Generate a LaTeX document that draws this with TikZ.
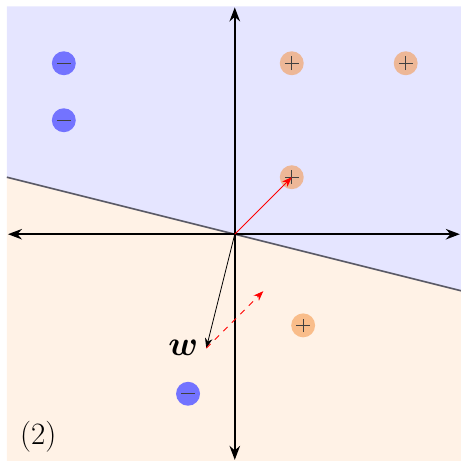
\documentclass[tikz,border=0pt]{standalone}
\usepackage{amsmath,amssymb,bm}
\usetikzlibrary{arrows.meta, positioning, calc}
\definecolor{regionA}{HTML}{E5E5FF}
\definecolor{regionB}{HTML}{FFF2E6}
\definecolor{lineG}{HTML}{5A5A66}
\definecolor{posC}{HTML}{F58A30}

\begin{document}
\begin{tikzpicture}[
  negclass/.style={
    circle, fill=blue!55, minimum size=0.42cm, inner sep=0pt,
    path picture={\draw[black!75, line width=0.5pt]
      ([xshift=-0.12cm]path picture bounding box.center) --
      ([xshift=0.12cm]path picture bounding box.center);}
  },
  posclass/.style={
    circle, fill=posC, fill opacity=0.5, minimum size=0.42cm, inner sep=0pt,
    path picture={\draw[black!75, line width=0.5pt, draw opacity=1]
      ([xshift=-0.12cm]path picture bounding box.center) --
      ([xshift=0.12cm]path picture bounding box.center)
      ([yshift=-0.12cm]path picture bounding box.center) --
      ([yshift=0.12cm]path picture bounding box.center);}
  },
  axis/.style={{Stealth[length=7pt]}-{Stealth[length=7pt]}, line width=0.9pt},
  bound/.style={lineG, line width=0.8pt},
  wvec/.style={-{Stealth[length=5pt]}, thin, black},
  upd/.style={-{Stealth[length=5pt]}, thin, red},
  updd/.style={-{Stealth[length=5pt]}, thin, red, dashed},
]
\useasboundingbox (-4.12,-3.98) rectangle (3.97,4.11);

%% ═══ REGIONS ═══
\fill[regionA] (-4,1) -- (4,-1) -- (4,4) -- (-4,4) -- cycle;
\fill[regionB] (-4,1) -- (4,-1) -- (4,-4) -- (-4,-4) -- cycle;
\coordinate (bl) at (-4,1);
\coordinate (br) at (4,-1);
\draw[bound] (bl) -- (br);

%% ═══ AXES ═══
\coordinate (o) at (0,0);
\coordinate (xl) at (-3.98,0);
\coordinate (xr) at (3.95,0);
\coordinate (yb) at (0,-3.96);
\coordinate (yt) at (0,3.98);
\draw[axis] (xl) -- (xr);
\draw[axis] (yb) -- (yt);

%% ═══ SAMPLES ═══
\node[negclass] (n1) at (-3,3) {};
\node[negclass] (n2) at (-3,2) {};
\node[negclass] (n3) at (-0.82,-2.8) {};
\node[posclass] (p1) at (1,3) {};
\node[posclass] (p2) at (3,3) {};
\node[posclass] (p3) at (1,1) {};
\node[posclass] (p4) at (1.2,-1.6) {};

%% ═══ WEIGHT + UPDATE ═══
\coordinate (w) at (-0.5,-2);
\coordinate (wn) at (0.5,-1);
\draw[wvec] (o) -- (w);
\draw[upd] (o) -- (p3.center);
\draw[updd] (w) -- (wn);
\node[left=0.02cm of w, font=\LARGE] (wl) {$\bm{w}$};

\node[font=\fontsize{15.5}{18}\selectfont] (tag) at (-3.45,-3.56) {(2)};

\end{tikzpicture}
\end{document}
